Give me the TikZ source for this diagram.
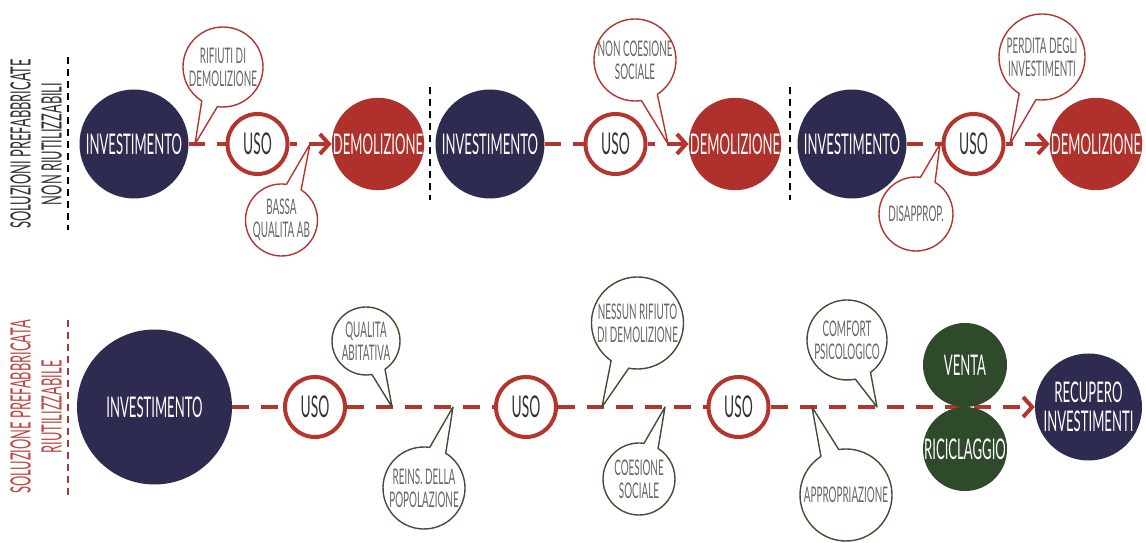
\documentclass[tikz,border=0pt]{standalone}
\usepackage{fontspec}
\setmainfont{Lato}[FakeStretch=0.46]
\usetikzlibrary{arrows.meta,calc,backgrounds}

\definecolor{inknavy}{HTML}{2D2C50}
\definecolor{brick}{HTML}{B0302B}
\definecolor{linered}{HTML}{B5342D}
\definecolor{forest}{HTML}{2F4A2B}
\definecolor{moss}{HTML}{3E5034}
\definecolor{talkgrey}{HTML}{666666}
\definecolor{usogrey}{HTML}{333333}
\definecolor{labelred}{HTML}{C0463E}

% speech-bubble outline: circle of a node with a gap (#3..#4 degrees) and a tail to #5
\newcommand\talk[6]{%
  \draw[#6] ($(#1.center)+(#4:#2)$) arc[start angle=#4, end angle=#3+360, radius=#2] -- (#5) -- cycle;}

\begin{document}
\begin{tikzpicture}[x=1pt,y=1pt,
  disc/.style={circle, inner sep=0pt, minimum size=#1, text=white, align=center,
    font=\fontsize{28.5}{29}\selectfont},
  navydisc/.style={disc=#1, fill=inknavy},
  reddisc/.style={disc=#1, fill=brick},
  greendisc/.style={disc=#1, fill=forest},
  usodisc/.style={circle, inner sep=0pt, minimum size=60pt, draw=linered, line width=4pt,
    fill=white, text=usogrey, font=\fontsize{30}{30}\selectfont},
  talktext/.style={inner sep=0pt, align=center, text=talkgrey, font=\fontsize{21.5}{23}\selectfont},
  redtalk/.style={draw=linered, line width=1.4pt, line join=round},
  greentalk/.style={draw=moss, line width=1.4pt, line join=round},
  flow/.style={draw=linered, line width=4pt},
  stubs/.style={flow, dash pattern=on 16pt off 12pt},
  stubarrow/.style={flow, dash pattern=on 7pt off 12pt on 80pt, -{Straight Barb[length=9pt,width=20pt]}},
  longdash/.style={flow, dash pattern=on 17pt off 12pt},
  divider/.style={line width=2pt, dash pattern=on 7pt off 5pt},
  rowlabel/.style={rotate=90, align=center, font=\fontsize{28}{31}\selectfont},
]
\useasboundingbox (0,0) rectangle (1146,543);

% ---------------- first row: non-reusable prefabricated solutions ----------------
\node[rowlabel, text=usogrey] (lab1) at (36,399) {SOLUZIONI PREFABBRICATE\\NON RIUTILIZZABILI};
\coordinate (d1a) at (68,486); \coordinate (d1b) at (68,313);
\coordinate (d2a) at (430,456); \coordinate (d2b) at (430,343);
\coordinate (d3a) at (790,456); \coordinate (d3b) at (790,343);
\draw[divider] (d1a) -- (d1b);
\draw[divider] (d2a) -- (d2b);
\draw[divider] (d3a) -- (d3b);

\node[navydisc=109pt] (inv1) at (134,399) {INVESTIMENTO};
\node[usodisc] (uso1) at (257.5,399) {USO};
\node[reddisc=91pt] (dem1) at (378,399) {DEMOLIZIONE};

\node[navydisc=109pt] (inv2) at (490,399) {INVESTIMENTO};
\node[usodisc] (uso2) at (615.5,399) {USO};
\node[reddisc=91pt] (dem2) at (735,399) {DEMOLIZIONE};

\node[navydisc=109pt] (inv3) at (852,399) {INVESTIMENTO};
\node[usodisc] (uso3) at (973.5,399) {USO};
\node[reddisc=91pt] (dem3) at (1096,399) {DEMOLIZIONE};

\draw[stubs] (inv1) -- (uso1);
\draw[stubarrow] (uso1) -- (dem1);
\draw[stubs] (inv2) -- (uso2);
\draw[stubarrow] (uso2) -- (dem2);
\draw[stubs] (inv3) -- (uso3);
\draw[stubarrow] (uso3) -- (dem3);

\node[talktext] (b1) at (223,476) {RIFIUTI DI\\DEMOLIZIONE};
\coordinate (t1) at (195,399);
\talk{b1}{40}{238}{262}{t1}{redtalk}
\node[talktext] (b2) at (281.5,323) {BASSA\\QUALITA AB};
\coordinate (t2) at (310,399);
\talk{b2}{36}{57}{82}{t2}{redtalk}
\node[talktext] (b3) at (635,483) {NON COESIONE\\SOCIALE};
\coordinate (t3) at (668,399);
\talk{b3}{41}{279}{303}{t3}{redtalk}
\node[talktext] (b4) at (1042,486) {PERDITA DEGLI\\INVESTIMENTI};
\coordinate (t4) at (1010,399);
\talk{b4}{43}{238}{262}{t4}{redtalk}
\node[talktext] (b5) at (916,329) {DISAPPROP.};
\coordinate (t5) at (940,399);
\talk{b5}{37}{59}{83}{t5}{redtalk}

% ---------------- second row: reusable prefabricated solution ----------------
\node[rowlabel, text=labelred] (lab2) at (36,136) {SOLUZIONE PREFABBRICATA\\RIUTILIZZABILE};
\coordinate (d4a) at (68,223); \coordinate (d4b) at (68,46);
\draw[divider, draw=linered] (d4a) -- (d4b);

\node[navydisc=155pt] (inv4) at (154.5,136) {INVESTIMENTO};
\node[usodisc] (uso4) at (315,136) {USO};
\node[usodisc] (uso5) at (526,136) {USO};
\node[usodisc] (uso6) at (738.5,136) {USO};
\node[greendisc=84pt] (venta) at (965,178) {VENTA};
\node[greendisc=84pt] (ricic) at (965,94) {RICICLAGGIO};
\node[navydisc=107pt] (recup) at (1088.5,136) {RECUPERO\\INVESTIMENTI};

\begin{scope}[on background layer]
\draw[longdash] (inv4) -- (uso4);
\draw[longdash] (uso4) -- (uso5);
\draw[longdash] (uso5) -- (uso6);
\draw[longdash, -{Straight Barb[length=9pt,width=20pt]}] (uso6) -- (recup);
\end{scope}

\node[talktext] (b6) at (366,202) {QUALITA\\ABITATIVA};
\coordinate (t6) at (392,136);
\talk{b6}{34}{280}{304}{t6}{greentalk}
\node[talktext] (b7) at (424,55) {REINS. DELLA\\POPOLAZIONE};
\coordinate (t7) at (453,136);
\talk{b7}{41}{58}{82}{t7}{greentalk}
\node[talktext] (b8) at (637.5,220) {NESSUN RIFIUTO\\DI DEMOLIZIONE};
\coordinate (t8) at (602,136);
\talk{b8}{46}{235}{259}{t8}{greentalk}
\node[talktext] (b9) at (639,64) {COESIONE\\SOCIALE};
\coordinate (t9) at (665,136);
\talk{b9}{36}{58}{82}{t9}{greentalk}
\node[talktext] (b10) at (847,203) {COMFORT\\PSICOLOGICO};
\coordinate (t10) at (877,136);
\talk{b10}{40}{282}{306}{t10}{greentalk}
\node[talktext] (b11) at (846,48) {APPROPRIAZIONE};
\coordinate (t11) at (812,136);
\talk{b11}{46}{99}{123}{t11}{greentalk}
\end{tikzpicture}
\end{document}
